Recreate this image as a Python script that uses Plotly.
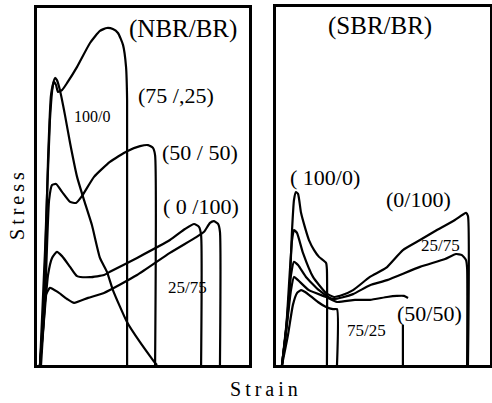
import plotly.graph_objects as go

# ---------------- Data (arbitrary units: strain 0-100, stress 0-100) ----------------
# Left panel: NBR/BR blends
nbr_100_0_strain = [1.4, 3.8, 6.1, 7.5, 8.5, 9.4, 10.8, 13.2, 15.6, 18.9, 22.6, 25.9, 29.7, 33.0, 35.8, 42.5, 48.6, 53.3, 55.7, 56.6]
nbr_100_0_stress = [0, 32.2, 68.6, 78.4, 80.4, 79.8, 77.0, 70.0, 62.2, 52.7, 45.4, 39.2, 30.0, 26.1, 21.0, 12.0, 6.4, 2.5, 0.6, 0]

nbr_75_25_strain = [1.4, 3.3, 5.2, 6.6, 8.0, 9.0, 9.9, 11.8, 14.2, 18.9, 25.0, 29.7, 33.0, 35.8, 38.2, 40.6, 42.0, 42.5, 42.5]
nbr_75_25_stress = [0, 18.2, 57.4, 75.6, 79.3, 78.4, 76.5, 77.0, 79.0, 83.5, 90.2, 93.6, 94.4, 94.1, 93.0, 89.6, 83.5, 74.2, 0]

nbr_50_50_strain = [1.9, 3.8, 5.7, 7.1, 9.0, 11.8, 15.6, 18.4, 21.2, 26.9, 34.4, 42.5, 48.6, 52.4, 54.7, 55.7, 55.7]
nbr_50_50_stress = [0, 18.2, 46.2, 50.4, 50.7, 48.5, 45.7, 45.4, 47.3, 52.7, 56.9, 59.9, 61.3, 61.6, 60.8, 58.8, 0]

nbr_25_75_strain = [1.4, 3.3, 5.2, 7.1, 9.4, 11.8, 15.6, 18.9, 25.0, 31.6, 34.4, 47.2, 62.7, 69.8, 74.1, 76.4, 77.4, 77.4]
nbr_25_75_stress = [0, 12.6, 25.2, 30.0, 31.7, 30.5, 27.5, 24.9, 24.6, 25.2, 26.1, 30.0, 35.0, 38.1, 39.5, 38.7, 36.4, 0]

nbr_0_100_strain = [1.4, 2.8, 4.2, 6.1, 9.9, 14.2, 17.5, 24.1, 31.6, 47.2, 62.7, 74.5, 78.8, 81.6, 83.5, 85.4, 86.3, 86.3]
nbr_0_100_stress = [0, 9.8, 19.6, 21.6, 20.4, 18.5, 17.4, 18.8, 20.2, 25.2, 31.4, 35.6, 37.3, 39.8, 40.3, 39.5, 37.3, 0]

# Right panel: SBR/BR blends
sbr_100_0_strain = [2.8, 4.2, 6.1, 7.5, 8.4, 9.3, 10.3, 11.7, 13.6, 15.4, 17.8, 20.1, 23.4, 23.8, 23.8]
sbr_100_0_stress = [0, 7.0, 18.2, 37.7, 46.1, 48.3, 47.8, 42.5, 38.3, 34.9, 32.1, 30.2, 28.5, 26.5, 0]

sbr_0_100_strain = [2.8, 4.7, 6.5, 7.5, 8.4, 9.8, 12.6, 17.3, 23.4, 27.1, 31.3, 36.0, 43.9, 51.4, 59.3, 67.3, 75.2, 83.6, 88.8, 89.7, 89.7]
sbr_0_100_stress = [0, 9.8, 26.5, 34.9, 37.7, 36.9, 31.3, 24.6, 20.1, 19.0, 19.6, 20.9, 24.6, 27.1, 32.1, 34.9, 37.7, 40.5, 42.5, 41.6, 0]

sbr_25_75_strain = [2.8, 5.1, 7.0, 8.4, 10.3, 14.0, 20.1, 26.6, 36.0, 43.9, 51.9, 67.3, 79.0, 84.1, 86.9, 88.8, 89.3, 89.3]
sbr_25_75_stress = [0, 12.6, 25.1, 28.8, 27.9, 24.6, 20.9, 18.4, 19.8, 22.3, 23.7, 27.4, 29.6, 31.0, 30.7, 29.3, 27.1, 0]

sbr_50_50_strain = [2.8, 5.1, 7.0, 8.4, 10.3, 15.4, 23.4, 28.5, 36.9, 43.9, 51.9, 56.5, 59.8, 61.7, None, 59.3, 59.3]
sbr_50_50_stress = [0, 11.2, 20.9, 24.6, 23.7, 20.9, 19.0, 17.6, 18.2, 18.2, 19.0, 19.3, 19.3, 18.7, None, 11.2, 0]

sbr_75_25_strain = [2.8, 5.6, 7.9, 9.8, 11.7, 13.6, 15.4, 19.6, 23.4, 26.6, 28.5, 28.5]
sbr_75_25_stress = [0, 8.4, 16.8, 20.1, 20.9, 20.4, 19.6, 17.6, 16.2, 15.6, 15.6, 0]

# Labels
left_labels = ["(NBR/BR)", "100/0", "(75 /,25)", "(50 / 50)", "( 0 /100)", "25/75"]
left_label_x = [68.9, 25.9, 65.6, 76.9, 77.4, 70.8]
left_label_y = [94.1, 69.5, 75.4, 59.4, 44.3, 21.8]
left_label_size = [25, 16, 22, 22, 22, 17]

right_labels = ["(SBR/BR)", "( 100/0)", "(0/100)", "25/75", "(50/50)", "75/25"]
right_label_x = [48.6, 22.9, 66.4, 77.1, 71.5, 42.5]
right_label_y = [94.7, 52.5, 46.1, 33.5, 14.5, 9.5]
right_label_size = [25, 22, 22, 17, 22, 17]

# ---------------- Figure ----------------
FONT = "Liberation Serif, Times New Roman, serif"
fig = go.Figure()

left_series = [
    (nbr_100_0_strain, nbr_100_0_stress),
    (nbr_75_25_strain, nbr_75_25_stress),
    (nbr_50_50_strain, nbr_50_50_stress),
    (nbr_25_75_strain, nbr_25_75_stress),
    (nbr_0_100_strain, nbr_0_100_stress),
]
right_series = [
    (sbr_100_0_strain, sbr_100_0_stress),
    (sbr_0_100_strain, sbr_0_100_stress),
    (sbr_25_75_strain, sbr_25_75_stress),
    (sbr_50_50_strain, sbr_50_50_stress),
    (sbr_75_25_strain, sbr_75_25_stress),
]

for xs, ys in left_series:
    fig.add_trace(go.Scatter(x=xs, y=ys, mode="lines", xaxis="x", yaxis="y",
                             line=dict(color="black", width=2.2, shape="spline", smoothing=0.5),
                             connectgaps=False, showlegend=False, hoverinfo="skip"))
for xs, ys in right_series:
    fig.add_trace(go.Scatter(x=xs, y=ys, mode="lines", xaxis="x2", yaxis="y2",
                             line=dict(color="black", width=2.2, shape="spline", smoothing=0.5),
                             connectgaps=False, showlegend=False, hoverinfo="skip"))

annotations = []
for t, x, y, s in zip(left_labels, left_label_x, left_label_y, left_label_size):
    annotations.append(dict(text=t, x=x, y=y, xref="x", yref="y", showarrow=False,
                            xanchor="center", yanchor="middle",
                            font=dict(family=FONT, size=s, color="black")))
for t, x, y, s in zip(right_labels, right_label_x, right_label_y, right_label_size):
    annotations.append(dict(text=t, x=x, y=y, xref="x2", yref="y2", showarrow=False,
                            xanchor="center", yanchor="middle",
                            font=dict(family=FONT, size=s, color="black")))

annotations.append(dict(text="S\u2009t\u2009r\u2009e\u2009s\u2009s", x=17 / 492, y=1 - 206 / 403,
                        xref="paper", yref="paper", xanchor="center", yanchor="middle",
                        showarrow=False, textangle=-90,
                        font=dict(family=FONT, size=20, color="black")))
annotations.append(dict(text="S\u2009t\u2009r\u2009a\u2009i\u2009n", x=264 / 492, y=1 - 389 / 403,
                        xref="paper", yref="paper", xanchor="center", yanchor="middle",
                        showarrow=False,
                        font=dict(family=FONT, size=20, color="black")))

axis_common = dict(showgrid=False, zeroline=False, showticklabels=False, ticks="",
                   showline=True, linecolor="black", linewidth=3, mirror=True,
                   range=[0, 100], fixedrange=True)

fig.update_layout(
    width=492, height=403,
    margin=dict(l=0, r=0, t=0, b=0),
    paper_bgcolor="white", plot_bgcolor="white",
    xaxis=dict(domain=[37 / 492, 249 / 492], anchor="y", **axis_common),
    yaxis=dict(domain=[38 / 403, 395 / 403], anchor="x", **axis_common),
    xaxis2=dict(domain=[276 / 492, 490 / 492], anchor="y2", **axis_common),
    yaxis2=dict(domain=[38 / 403, 396 / 403], anchor="x2", **axis_common),
    annotations=annotations,
    showlegend=False,
)

fig.write_html("out.html")
